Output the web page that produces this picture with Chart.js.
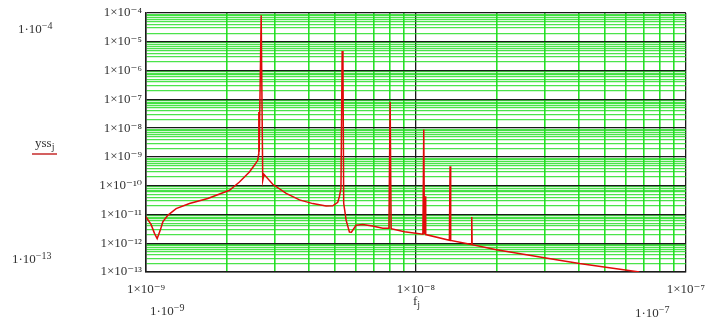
<!DOCTYPE html>
<html>
<head>
<meta charset="utf-8">
<script src="https://cdn.jsdelivr.net/npm/chart.js@4/dist/chart.umd.min.js"></script>
<style>
  html, body { margin: 0; padding: 0; background: #fff; }
  #wrap { position: relative; width: 715px; height: 320px; }
  .lbl { position: absolute; font-family: 'Liberation Serif', 'DejaVu Serif', serif; font-size: 13px; line-height: 15px; color: #333; white-space: nowrap; }
  .lbl sup { font-size: 10px; position: relative; top: -0.45em; vertical-align: baseline; line-height: 0; }
  .lbl sub { font-size: 10px; position: relative; top: 0.3em; vertical-align: baseline; line-height: 0; }
  #ylab { border-bottom: 2px solid #d46060; padding: 0 3px 3px 3px; }
</style>
</head>
<body>
<div id="wrap">
  <canvas id="chart" width="715" height="320"></canvas>
  <div class="lbl" style="left:18px;top:21px">1·10<sup>−4</sup></div>
  <div class="lbl" id="ylab" style="left:32px;top:135px">yss<sub>j</sub></div>
  <div class="lbl" style="left:12px;top:251px">1·10<sup>−13</sup></div>
  <div class="lbl" style="left:150px;top:303px">1·10<sup>−9</sup></div>
  <div class="lbl" style="left:413px;top:293px">f<sub>j</sub></div>
  <div class="lbl" style="left:635px;top:305px">1·10<sup>−7</sup></div>
</div>
<script>
// valores (f_j e yss_j)
const fj = [
  1.000e-9, 1.045e-9, 1.075e-9, 1.100e-9, 1.129e-9, 1.154e-9, 1.204e-9, 1.293e-9,
  1.449e-9, 1.694e-9, 2.038e-9, 2.219e-9, 2.416e-9, 2.520e-9, 2.594e-9, 2.612e-9,
  2.618e-9, 2.626e-9, 2.671e-9, 2.707e-9, 2.735e-9, 2.948e-9, 3.306e-9, 3.703e-9,
  4.147e-9, 4.648e-9, 4.918e-9, 5.133e-9, 5.208e-9, 5.275e-9, 5.330e-9, 5.366e-9,
  5.400e-9, 5.512e-9, 5.669e-9, 5.767e-9, 6.002e-9, 6.353e-9, 6.900e-9, 7.534e-9,
  7.943e-9, 8.024e-9, 8.093e-9, 9.065e-9, 1.061e-8, 1.069e-8, 1.075e-8, 1.081e-8,
  1.087e-8, 1.330e-8, 1.338e-8, 1.345e-8, 1.606e-8, 1.610e-8, 1.615e-8, 1.987e-8,
  2.632e-8, 3.400e-8, 4.033e-8, 5.208e-8, 6.725e-8
];
const yss = [
  8.2e-12, 4.4e-12, 2.2e-12, 1.45e-12, 2.8e-12, 5.5e-12, 9.3e-12, 1.6e-11,
  2.4e-11, 3.6e-11, 6.9e-11, 1.34e-10, 2.98e-10, 5.1e-10, 7.6e-10, 1.2e-9,
  3.6e-8, 1.5e-9, 8.3e-5, 1.54e-10, 2.48e-10, 1.12e-10, 5.4e-11, 3.2e-11,
  2.38e-11, 1.97e-11, 2.0e-11, 2.64e-11, 4.3e-11, 8.1e-11, 4.8e-6, 1.8e-6,
  2.44e-11, 6.3e-12, 2.45e-12, 2.4e-12, 4.2e-12, 4.5e-12, 4.0e-12, 3.3e-12,
  3.3e-12, 8.1e-8, 3.2e-12, 2.5e-12, 2.05e-12, 8.9e-9, 2.05e-12, 4.3e-11,
  2.0e-12, 1.26e-12, 4.7e-10, 1.25e-12, 9.0e-13, 8.2e-12, 8.9e-13, 5.9e-13,
  3.8e-13, 2.55e-13, 1.96e-13, 1.4e-13, 1.0e-13
];

// décadas dos eixos e seus rótulos
const xDecades = [-9, -8, -7];
const xTickLabels = ['1×10⁻⁹', '1×10⁻⁸', '1×10⁻⁷'];
const yDecades = [-13, -12, -11, -10, -9, -8, -7, -6, -5, -4];
const yTickLabels = ['1×10⁻¹³', '1×10⁻¹²', '1×10⁻¹¹', '1×10⁻¹⁰', '1×10⁻⁹',
                     '1×10⁻⁸', '1×10⁻⁷', '1×10⁻⁶', '1×10⁻⁵', '1×10⁻⁴'];

function logTicks(exps) {
  const out = [];
  for (let i = 0; i < exps.length - 1; i++) {
    for (let m = 1; m <= 9; m++) out.push(m * Math.pow(10, exps[i]));
  }
  out.push(Math.pow(10, exps[exps.length - 1]));
  return out;
}

function isDecade(v) {
  const l = Math.log10(v);
  return Math.abs(l - Math.round(l)) < 1e-6;
}

function labelFor(v, exps, labels) {
  if (!isDecade(v)) return '';
  const i = exps.indexOf(Math.round(Math.log10(v)));
  return i >= 0 ? labels[i] : '';
}

const tickFont = { family: "'Liberation Serif', 'DejaVu Serif', serif", size: 13 };
const minorGreen = 'rgb(40, 225, 40)';
const minorGreenH = 'rgba(30, 220, 30, 0.8)';
const majorDark = '#1a1a1a';

const ctx = document.getElementById('chart').getContext('2d');

new Chart(ctx, {
  type: 'line',
  data: {
    datasets: [{
      label: 'yss',
      data: fj.map((f, i) => ({ x: f, y: yss[i] })),
      borderColor: 'rgb(225, 10, 10)',
      borderWidth: 1.5,
      pointRadius: 0,
      tension: 0,
      fill: false
    }]
  },
  options: {
    responsive: false,
    animation: false,
    layout: { padding: { left: 0, right: 28, top: 13, bottom: 0 } },
    plugins: {
      legend: { display: false },
      tooltip: { enabled: false }
    },
    scales: {
      x: {
        type: 'logarithmic',
        min: 1e-9,
        max: 1e-7,
        afterBuildTicks: axis => { axis.ticks = logTicks(xDecades).map(v => ({ value: v })); },
        afterFit: axis => { axis.height = 48; },
        border: { display: true, color: majorDark, width: 1.5 },
        grid: {
          drawTicks: false,
          color: c => (c.tick && isDecade(c.tick.value)) ? majorDark : minorGreen,
          lineWidth: c => (c.tick && isDecade(c.tick.value)) ? 1.3 : 1.6
        },
        ticks: {
          autoSkip: false,
          maxRotation: 0,
          padding: 10,
          color: '#333',
          font: tickFont,
          callback: v => labelFor(v, xDecades, xTickLabels)
        }
      },
      y: {
        type: 'logarithmic',
        min: 1e-13,
        max: 1e-4,
        afterBuildTicks: axis => { axis.ticks = logTicks(yDecades).map(v => ({ value: v })); },
        afterFit: axis => { axis.width = 146; },
        border: { display: true, color: majorDark, width: 1.5 },
        grid: {
          drawTicks: false,
          color: c => (c.tick && isDecade(c.tick.value)) ? majorDark : minorGreenH,
          lineWidth: c => (c.tick && isDecade(c.tick.value)) ? 1.3 : 1.2
        },
        ticks: {
          autoSkip: false,
          padding: 4,
          color: '#333',
          font: tickFont,
          callback: v => labelFor(v, yDecades, yTickLabels)
        }
      }
    }
  }
});
</script>
</body>
</html>
